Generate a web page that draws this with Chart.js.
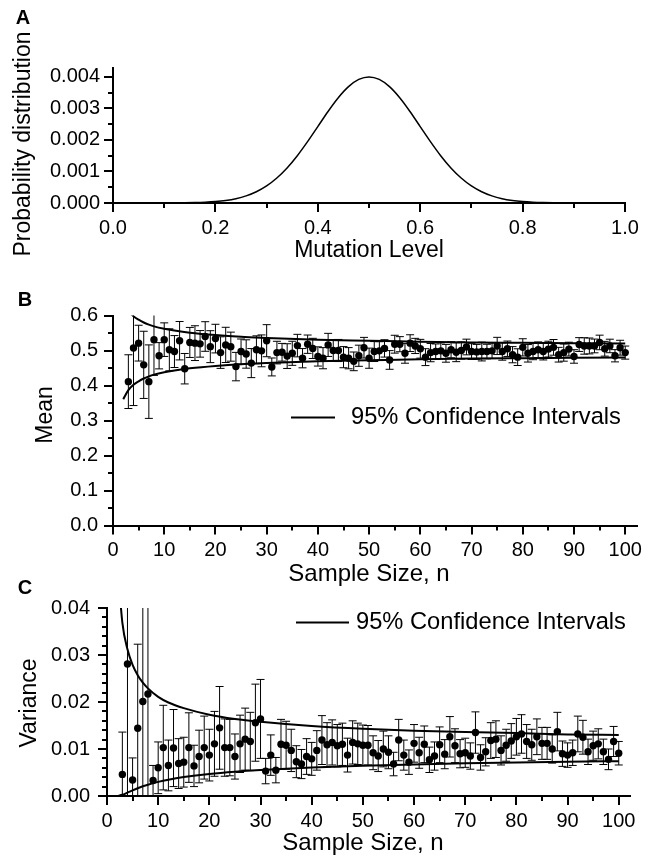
<!DOCTYPE html>
<html><head><meta charset="utf-8">
<script src="https://cdn.jsdelivr.net/npm/chart.js@4.4.1/dist/chart.umd.min.js"></script>
<style>
html,body{margin:0;padding:0;background:#fff;}
#wrap{position:relative;width:658px;height:857px;background:#fff;}
canvas{position:absolute;left:0;top:0;}
</style></head><body>
<div id="wrap">
<canvas id="cA" width="658" height="857"></canvas>
<canvas id="cB" width="658" height="857"></canvas>
<canvas id="cC" width="658" height="857"></canvas>
</div>
<script>
// ---------- DATA ----------
// Panel A: probability distribution vs mutation level
const levelX = [0,0.02,0.04,0.06,0.08,0.10,0.12,0.14,0.16,0.18,0.20,0.22,0.24,0.26,0.28,0.30,0.32,0.34,0.36,0.38,0.40,0.42,0.44,0.46,0.48,0.50,
  0.52,0.54,0.56,0.58,0.60,0.62,0.64,0.66,0.68,0.70,0.72,0.74,0.76,0.78,0.80,0.82,0.84,0.86,0.88,0.90,0.92,0.94,0.96,0.98,1.00];
const levelP = [0,0,0,0,0.0000001,0.0000013,0.0000029,0.0000061,0.0000124,0.0000239,0.0000444,0.0000794,0.000136,0.000225,0.000356,0.000541,0.000792,0.001112,0.001501,0.001947,0.002426,0.002905,0.003341,0.003692,0.003921,0.004,
  0.003921,0.003692,0.003341,0.002905,0.002426,0.001947,0.001501,0.001112,0.000792,0.000541,0.000356,0.000225,0.000136,0.0000794,0.0000444,0.0000239,0.0000124,0.0000061,0.0000029,0.0000013,0.0000001,0,0,0,0];

// Panels B and C: sample sizes
const sampleN = [3,4,5,6,7,8,9,10,11,12,13,14,15,16,17,18,19,20,21,22,23,24,25,26,27,28,29,30,31,32,33,34,35,36,37,38,39,40,41,42,
  43,44,45,46,47,48,49,50,51,52,53,54,55,56,57,58,59,60,61,62,63,64,65,66,67,68,69,70,71,72,73,74,75,76,77,78,79,80,81,82,
  83,84,85,86,87,88,89,90,91,92,93,94,95,96,97,98,99,100];

// Panel B: sample means and error half-widths
const meanVals = [0.411,0.507,0.521,0.459,0.411,0.531,0.485,0.531,0.502,0.497,
  0.528,0.448,0.523,0.521,0.519,0.540,0.511,0.534,0.494,0.516,
  0.511,0.454,0.497,0.490,0.464,0.502,0.499,0.528,0.453,0.494,
  0.495,0.484,0.492,0.514,0.478,0.518,0.506,0.483,0.478,0.516,
  0.500,0.500,0.481,0.478,0.469,0.485,0.508,0.478,0.497,0.499,
  0.506,0.473,0.518,0.518,0.492,0.521,0.513,0.505,0.481,0.494,
  0.497,0.499,0.492,0.502,0.495,0.500,0.510,0.497,0.496,0.497,
  0.497,0.499,0.513,0.497,0.505,0.488,0.481,0.509,0.492,0.497,
  0.502,0.497,0.504,0.509,0.488,0.494,0.504,0.483,0.517,0.513,
  0.513,0.513,0.523,0.505,0.513,0.485,0.508,0.494];
const meanErr = [0.0768,0.1643,0.0511,0.0960,0.1050,0.1021,0.0375,0.0480,0.0600,0.0456,
  0.0549,0.0435,0.0429,0.0497,0.0380,0.0423,0.0456,0.0409,0.0451,0.0503,
  0.0415,0.0406,0.0359,0.0405,0.0415,0.0399,0.0455,0.0458,0.0256,0.0323,
  0.0253,0.0353,0.0344,0.0322,0.0275,0.0262,0.0288,0.0275,0.0302,0.0330,
  0.0312,0.0316,0.0302,0.0303,0.0267,0.0302,0.0295,0.0288,0.0285,0.0261,
  0.0248,0.0267,0.0255,0.0216,0.0283,0.0240,0.0217,0.0268,0.0241,0.0261,
  0.0217,0.0226,0.0254,0.0228,0.0269,0.0246,0.0224,0.0225,0.0214,0.0268,
  0.0208,0.0221,0.0246,0.0247,0.0220,0.0231,0.0239,0.0246,0.0250,0.0233,
  0.0225,0.0240,0.0225,0.0224,0.0210,0.0245,0.0197,0.0193,0.0197,0.0235,
  0.0227,0.0196,0.0208,0.0211,0.0193,0.0175,0.0212,0.0187];

// Panel C: sample variances and error half-widths
const varVals = [0.0046,0.0281,0.0034,0.0144,0.0201,0.0217,0.0033,0.0060,0.0103,0.0065,
  0.0102,0.0069,0.0072,0.0103,0.0064,0.0084,0.0103,0.0087,0.0111,0.0145,
  0.0103,0.0103,0.0084,0.0111,0.0121,0.0116,0.0156,0.0164,0.0053,0.0087,
  0.0055,0.0110,0.0108,0.0097,0.0073,0.0068,0.0084,0.0079,0.0097,0.0119,
  0.0109,0.0114,0.0107,0.0110,0.0087,0.0114,0.0111,0.0108,0.0108,0.0092,
  0.0085,0.0100,0.0093,0.0068,0.0119,0.0087,0.0072,0.0112,0.0092,0.0110,
  0.0077,0.0085,0.0109,0.0089,0.0126,0.0107,0.0090,0.0092,0.0085,0.0135,
  0.0082,0.0094,0.0118,0.0121,0.0097,0.0108,0.0117,0.0126,0.0132,0.0116,
  0.0109,0.0126,0.0112,0.0112,0.0100,0.0137,0.0090,0.0087,0.0092,0.0132,
  0.0125,0.0094,0.0107,0.0111,0.0094,0.0078,0.0116,0.0091];
const varErr = [0.0090,0.0450,0.0047,0.0179,0.0228,0.0227,0.0032,0.0055,0.0090,0.0054,
  0.0082,0.0053,0.0053,0.0074,0.0044,0.0056,0.0067,0.0055,0.0069,0.0088,
  0.0061,0.0060,0.0048,0.0061,0.0066,0.0062,0.0082,0.0084,0.0027,0.0043,
  0.0027,0.0053,0.0051,0.0045,0.0034,0.0031,0.0038,0.0035,0.0042,0.0052,
  0.0047,0.0048,0.0045,0.0045,0.0036,0.0046,0.0044,0.0043,0.0042,0.0036,
  0.0033,0.0038,0.0035,0.0025,0.0044,0.0032,0.0026,0.0040,0.0033,0.0039,
  0.0027,0.0030,0.0038,0.0031,0.0043,0.0036,0.0030,0.0031,0.0028,0.0044,
  0.0027,0.0030,0.0038,0.0039,0.0031,0.0034,0.0037,0.0039,0.0041,0.0036,
  0.0033,0.0038,0.0034,0.0034,0.0030,0.0041,0.0027,0.0026,0.0027,0.0038,
  0.0036,0.0027,0.0031,0.0032,0.0027,0.0022,0.0032,0.0025];

// 95% confidence interval curves
const ciN = [2,3,4,5,6,7,8,10,12,15,20,25,30,40,50,60,70,80,90,100];
const meanUpper = [0.639,0.613,0.598,0.588,0.580,0.574,0.569,0.562,0.557,0.551,0.544,0.539,0.536,0.531,0.528,0.525,0.523,0.522,0.521,0.520];
const meanLower = [0.361,0.387,0.402,0.412,0.420,0.426,0.431,0.438,0.443,0.449,0.456,0.461,0.464,0.469,0.472,0.475,0.477,0.478,0.479,0.480];
const varUpper = [0.0502,0.0369,0.0312,0.0279,0.0257,0.0241,0.0229,0.0211,0.0199,0.0187,0.0173,0.0164,0.0158,0.0149,0.0143,0.0139,0.0136,0.0134,0.0131,0.0130];
const varLower = [0.00001,0.00025,0.00072,0.00121,0.00166,0.00206,0.00241,0.0030,0.00347,0.00402,0.00469,0.00517,0.00553,0.00607,0.00644,0.00672,0.00695,0.00713,0.00728,0.00741];

// Tick values and labels
const aXTicks = [0,0.2,0.4,0.6,0.8,1.0];
const aXLabels = ['0.0','0.2','0.4','0.6','0.8','1.0'];
const aXMinor = [0.1,0.3,0.5,0.7,0.9];
const aYTicks = [0,0.001,0.002,0.003,0.004];
const aYLabels = ['0.000','0.001','0.002','0.003','0.004'];
const aYMinor = [0.0005,0.0015,0.0025,0.0035];
const nTicks = [0,10,20,30,40,50,60,70,80,90,100];
const nLabels = ['0','10','20','30','40','50','60','70','80','90','100'];
const nMinor = [5,15,25,35,45,55,65,75,85,95];
const bYTicks = [0,0.1,0.2,0.3,0.4,0.5,0.6];
const bYLabels = ['0.0','0.1','0.2','0.3','0.4','0.5','0.6'];
const bYMinor = [0.05,0.15,0.25,0.35,0.45,0.55];
const cYTicks = [0,0.01,0.02,0.03,0.04];
const cYLabels = ['0.00','0.01','0.02','0.03','0.04'];
const cYMinor = [0.002,0.004,0.006,0.008,0.012,0.014,0.016,0.018,0.022,0.024,0.026,0.028,0.032,0.034,0.036,0.038];

// ---------- RENDERING ----------
const FONT = '"Liberation Sans", Arial, Helvetica, sans-serif';
Chart.defaults.font.family = FONT;
Chart.defaults.color = '#000';
const WY = 104, HX = 40, PW = 658, PH = 857;

function scale(min, max, ticks, labels, horizontal, pad) {
  return {
    type: 'linear', min: min, max: max, position: horizontal ? 'bottom' : 'left',
    afterBuildTicks: sc => { sc.ticks = ticks.map(v => ({ value: v })); },
    ticks: { autoSkip: false, maxRotation: 0, minRotation: 0, padding: pad, color: '#000',
             font: { size: 20, family: FONT }, callback: (v, i) => labels[i] },
    grid: { display: true, drawOnChartArea: false, drawTicks: true, tickLength: 9, lineWidth: 2, color: '#000' },
    border: { display: true, color: '#000', width: 2 },
    afterFit: sc => { if (horizontal) sc.height = HX; else sc.width = WY; }
  };
}

function panelPlugin(p) {
  return {
    id: 'panel_' + p.key,
    beforeDatasetsDraw(chart) {
      if (!p.err) return;
      const ctx = chart.ctx, a = chart.chartArea, x = chart.scales.x, y = chart.scales.y;
      ctx.save();
      ctx.beginPath(); ctx.rect(a.left, a.top, a.right - a.left, a.bottom - a.top); ctx.clip();
      ctx.strokeStyle = '#000'; ctx.lineWidth = 1;
      ctx.beginPath();
      p.err.xs.forEach((n, i) => {
        const px = x.getPixelForValue(n);
        const m = p.err.ys[i], e = p.err.es[i];
        const pt = y.getPixelForValue(m + e), pb = y.getPixelForValue(m - e);
        ctx.moveTo(px, pt); ctx.lineTo(px, pb);
        ctx.moveTo(px - 4, pt); ctx.lineTo(px + 4, pt);
        ctx.moveTo(px - 4, pb); ctx.lineTo(px + 4, pb);
      });
      ctx.stroke();
      ctx.restore();
    },
    afterDraw(chart) {
      const ctx = chart.ctx, x = chart.scales.x, y = chart.scales.y;
      ctx.save();
      ctx.strokeStyle = '#000'; ctx.lineWidth = 2;
      ctx.beginPath();
      p.minorX.forEach(v => { const px = Math.round(x.getPixelForValue(v)); ctx.moveTo(px, x.top); ctx.lineTo(px, x.top + 5); });
      p.minorY.forEach(v => { const py = Math.round(y.getPixelForValue(v)); ctx.moveTo(y.right, py); ctx.lineTo(y.right - 5, py); });
      ctx.stroke();
      if (p.legend) {
        ctx.lineWidth = 2;
        ctx.beginPath(); ctx.moveTo(p.legend.x1, p.legend.y); ctx.lineTo(p.legend.x2, p.legend.y); ctx.stroke();
      }
      p.texts.forEach(t => {
        ctx.save();
        ctx.font = (t.bold ? 'bold ' : '') + t.size + 'px ' + FONT;
        ctx.fillStyle = '#000';
        ctx.textAlign = t.align || 'center';
        ctx.textBaseline = 'middle';
        ctx.translate(t.x, t.y);
        if (t.rot) ctx.rotate(-Math.PI / 2);
        ctx.fillText(t.text, 0, 0);
        ctx.restore();
      });
      ctx.restore();
    }
  };
}

function makeChart(id, g, xs, ys, datasets, p) {
  return new Chart(document.getElementById(id), {
    type: 'scatter',
    data: { datasets: datasets },
    options: {
      responsive: false, animation: false, devicePixelRatio: 1, events: [],
      layout: { padding: { left: g.L - WY, right: PW - g.R, top: g.T, bottom: PH - g.B - HX } },
      plugins: { legend: { display: false }, tooltip: { enabled: false }, title: { display: false } },
      scales: { x: xs, y: ys }
    },
    plugins: [panelPlugin(p)]
  });
}

function curve(xv, yv, w) {
  return { data: xv.map((v, i) => ({ x: v, y: yv[i] })), showLine: true, borderColor: '#000', borderWidth: w,
           pointRadius: 0, cubicInterpolationMode: 'monotone', clip: 0, fill: false };
}
function dots(xv, yv) {
  return { data: xv.map((v, i) => ({ x: v, y: yv[i] })), showLine: false, backgroundColor: '#000', borderColor: '#000',
           borderWidth: 0, pointRadius: 3.7, clip: false };
}

// Panel A
makeChart('cA', { L: 113, R: 625, T: 67.5, B: 203 },
  scale(0, 1, aXTicks, aXLabels, true, 4),
  scale(0, 0.0043, aYTicks, aYLabels, false, 4),
  [curve(levelX, levelP, 1.5)],
  { key: 'A', minorX: aXMinor, minorY: aYMinor,
    texts: [
      { text: 'A', x: 23, y: 18, size: 20, bold: true },
      { text: 'Probability distribution', x: 24, y: 144, size: 23, rot: true },
      { text: 'Mutation Level', x: 369, y: 251, size: 23 }
    ] });

// Panel B
makeChart('cB', { L: 113, R: 636.5, T: 315.5, B: 525.5 },
  scale(0, 102.2, nTicks, nLabels, true, 4),
  scale(0, 0.6, bYTicks, bYLabels, false, 6),
  [curve(ciN, meanUpper, 2), curve(ciN, meanLower, 2), dots(sampleN, meanVals)],
  { key: 'B', minorX: nMinor, minorY: bYMinor,
    err: { xs: sampleN, ys: meanVals, es: meanErr },
    legend: { x1: 291, x2: 335, y: 417.5 },
    texts: [
      { text: 'B', x: 25, y: 300, size: 20, bold: true },
      { text: 'Mean', x: 46, y: 415, size: 23, rot: true },
      { text: 'Sample Size, n', x: 369, y: 574, size: 24 },
      { text: '95% Confidence Intervals', x: 351, y: 417, size: 23.7, align: 'left' }
    ] });

// Panel C
makeChart('cC', { L: 107, R: 630, T: 608, B: 796 },
  scale(0, 102.2, nTicks, nLabels, true, 4),
  scale(0, 0.04, cYTicks, cYLabels, false, 8),
  [curve(ciN, varUpper, 2), curve(ciN, varLower, 2), dots(sampleN, varVals)],
  { key: 'C', minorX: nMinor, minorY: cYMinor,
    err: { xs: sampleN, ys: varVals, es: varErr },
    legend: { x1: 296, x2: 349, y: 622.5 },
    texts: [
      { text: 'C', x: 25, y: 588, size: 20, bold: true },
      { text: 'Variance', x: 30, y: 703, size: 23, rot: true },
      { text: 'Sample Size, n', x: 363, y: 843, size: 24 },
      { text: '95% Confidence Intervals', x: 356, y: 622, size: 23.7, align: 'left' }
    ] });
</script>
</body></html>
